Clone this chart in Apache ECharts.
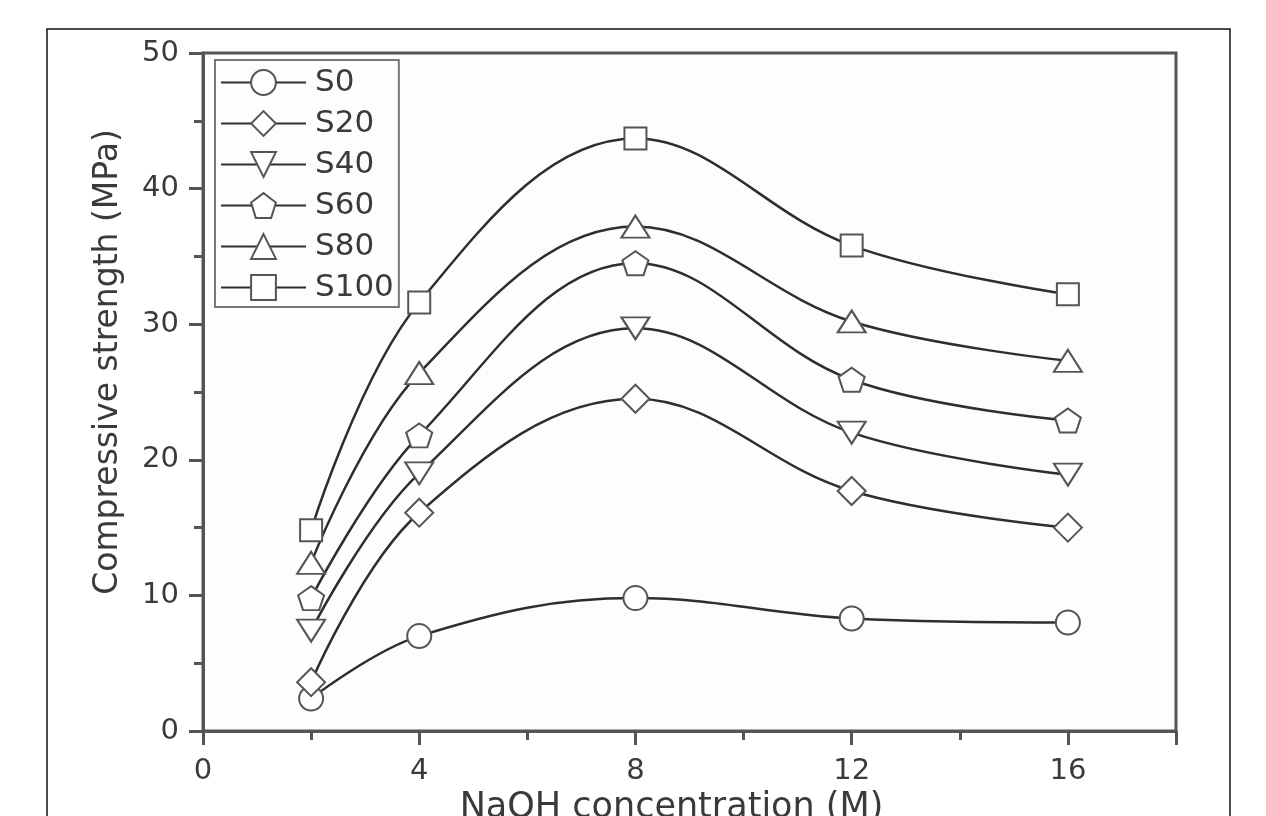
<!DOCTYPE html>
<html>
<head>
<meta charset="utf-8">
<script src="https://cdn.jsdelivr.net/npm/echarts@6/dist/echarts.min.js"></script>
<style>
html,body{margin:0;padding:0;background:#fff;}
#chart{width:1266px;height:816px;}
</style>
</head>
<body>
<div id="chart"></div>
<script>
const xValues = [2, 4, 8, 12, 16];
const seriesNames = ['S0', 'S20', 'S40', 'S60', 'S80', 'S100'];
const S0 = [2.4, 7.0, 9.8, 8.3, 8.0];
const S20 = [3.6, 16.1, 24.5, 17.7, 15.0];
const S40 = [7.4, 19.0, 29.7, 22.0, 18.9];
const S60 = [9.8, 21.8, 34.5, 25.9, 22.9];
const S80 = [12.4, 26.4, 37.2, 30.2, 27.3];
const S100 = [14.8, 31.6, 43.7, 35.8, 32.2];
const xTicks = [0, 4, 8, 12, 16];
const yTicks = [0, 10, 20, 30, 40, 50];

const seriesData = [S0, S20, S40, S60, S80, S100];
const pentagon = 'path://M0,-1 L0.951,-0.309 L0.588,0.809 L-0.588,0.809 L-0.951,-0.309 Z';
const symbols = [
  {symbol: 'circle', size: 24, rotate: 0},
  {symbol: 'diamond', size: [28, 28], rotate: 0},
  {symbol: 'triangle', size: [28, 22], rotate: 180},
  {symbol: pentagon, size: [26, 24], rotate: 0},
  {symbol: 'triangle', size: [28, 22], rotate: 0},
  {symbol: 'rect', size: 22, rotate: 0}
];

const font = 'DejaVu Sans, Liberation Sans, Arial, sans-serif';
const chart = echarts.init(document.getElementById('chart'), null, {renderer: 'canvas'});

const series = seriesNames.map((name, i) => ({
  name: name,
  type: 'line',
  data: xValues.map((x, j) => [x, seriesData[i][j]]),
  smooth: 0.38,
  symbol: symbols[i].symbol,
  symbolSize: symbols[i].size,
  symbolRotate: symbols[i].rotate,
  showAllSymbol: true,
  lineStyle: {color: '#2e2e2e', width: 2.5},
  itemStyle: {color: '#ffffff', borderColor: '#555555', borderWidth: 2},
  emphasis: {disabled: true},
  z: 2
}));

chart.setOption({
  animation: false,
  backgroundColor: '#ffffff',
  graphic: [{
    type: 'rect',
    shape: {x: 47, y: 29, width: 1183, height: 820},
    style: {fill: 'none', stroke: '#111', lineWidth: 1.5},
    silent: true,
    z: -10
  }],
  grid: {
    left: 203, right: 1266 - 1176, top: 53, bottom: 816 - 731,
    outerBoundsMode: 'none', containLabel: false,
    show: true, borderColor: '#555', borderWidth: 3, backgroundColor: '#fdfdfd'
  },
  legend: {
    data: seriesNames,
    orient: 'vertical',
    left: 215, top: 60,
    padding: [7, 5, 4, 5],
    itemWidth: 85, itemHeight: 31, itemGap: 10,
    borderColor: '#777', borderWidth: 2,
    backgroundColor: '#fdfdfd',
    textStyle: {fontFamily: font, fontSize: 31, color: '#3a3a3a', lineHeight: 31, padding: [0, 0, 0, 4]},
    inactiveColor: '#3a3a3a'
  },
  xAxis: {
    type: 'value',
    min: 0, max: 18, interval: 4,
    name: 'NaOH concentration (M)',
    nameLocation: 'middle',
    nameGap: 57,
    nameTextStyle: {fontFamily: font, fontSize: 35, color: '#3a3a3a', padding: [0, 36, 0, 0]},
    axisLine: {show: true, onZero: false, lineStyle: {color: '#555', width: 3}},
    axisTick: {show: true, inside: false, length: 14, lineStyle: {color: '#555', width: 3}},
    minorTick: {show: true, splitNumber: 2, length: 9, lineStyle: {color: '#555', width: 3}},
    axisLabel: {fontFamily: font, fontSize: 29, color: '#3a3a3a', margin: 26, showMaxLabel: false,
      formatter: v => (xTicks.indexOf(v) >= 0 ? String(v) : '')},
    splitLine: {show: false},
    minorSplitLine: {show: false}
  },
  yAxis: {
    type: 'value',
    min: 0, max: 50, interval: 10,
    name: 'Compressive strength (MPa)',
    nameLocation: 'middle',
    nameGap: 78,
    nameTextStyle: {fontFamily: font, fontSize: 33, color: '#3a3a3a', padding: [0, 0, 0, 60]},
    axisLine: {show: true, onZero: false, lineStyle: {color: '#555', width: 3}},
    axisTick: {show: true, inside: false, length: 14, lineStyle: {color: '#555', width: 3}},
    minorTick: {show: true, splitNumber: 2, length: 9, lineStyle: {color: '#555', width: 3}},
    axisLabel: {fontFamily: font, fontSize: 29, color: '#3a3a3a', margin: 24,
      formatter: v => (yTicks.indexOf(v) >= 0 ? String(v) : '')},
    splitLine: {show: false},
    minorSplitLine: {show: false}
  },
  series: series
});
</script>
</body>
</html>
